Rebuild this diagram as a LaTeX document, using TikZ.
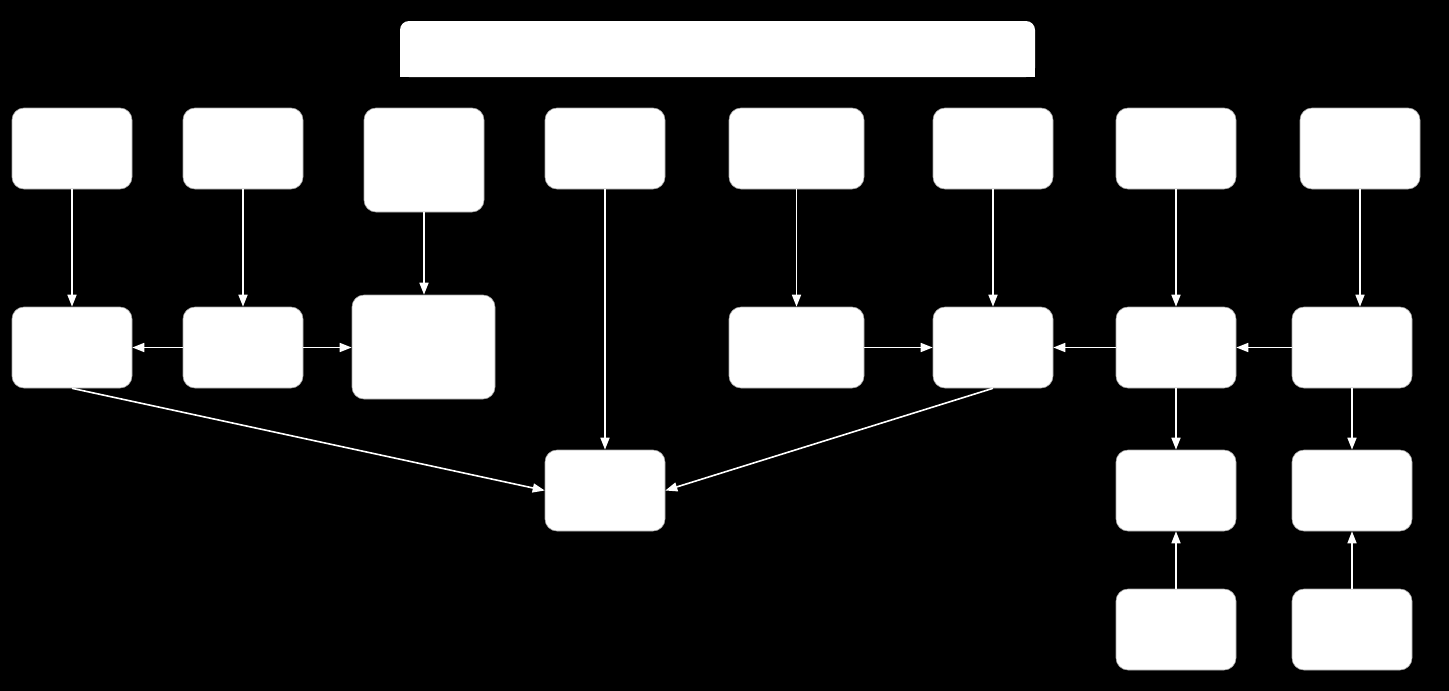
\documentclass[tikz,border=0pt]{standalone}
\usetikzlibrary{arrows.meta}
\begin{document}
\begin{tikzpicture}[x=1pt,y=-1pt,
  box/.style={rectangle, rounded corners=12pt, fill=white, draw=gray!70, line width=0.6pt, minimum width=120pt, minimum height=81pt, inner sep=0pt},
  wide/.style={box, minimum width=135pt},
  tall/.style={box, minimum height=104pt},
  conn/.style={draw=white, line width=1.6pt, -{Triangle[length=12pt,width=9pt]}}]
\fill[black] (0,0) rectangle (1449,691);
\useasboundingbox (0,0) rectangle (1449,691);
% title bar
\node[rectangle, rounded corners=9pt, fill=white, minimum width=635pt, minimum height=56pt, inner sep=0pt] (title) at (717.5,49) {};
\fill[white] (title.west) rectangle (title.south east);
% row 1
\node[box] (a1) at (72,148.5) {};
\node[box] (a2) at (243,148.5) {};
\node[tall] (a3) at (424,160) {};
\node[box] (a4) at (605,148.5) {};
\node[wide] (a5) at (796.5,148.5) {};
\node[box] (a6) at (993,148.5) {};
\node[box] (a7) at (1176,148.5) {};
\node[box] (a8) at (1360,148.5) {};
% row 2
\node[box] (b1) at (72,347.5) {};
\node[box] (b2) at (243,347.5) {};
\node[box, minimum width=143pt, minimum height=104pt] (b3) at (423.5,347) {};
\node[wide] (b5) at (796.5,347.5) {};
\node[box] (b6) at (993,347.5) {};
\node[box] (b7) at (1176,347.5) {};
\node[box] (b8) at (1352,347.5) {};
% row 3
\node[box] (c4) at (605,490.5) {};
\node[box] (c7) at (1176,490.5) {};
\node[box] (c8) at (1352,490.5) {};
% row 4
\node[box] (d7) at (1176,629.5) {};
\node[box] (d8) at (1352,629.5) {};
% connectors
\draw[conn] (a1) -- (b1);
\draw[conn] (a2) -- (b2);
\draw[conn] (a3) -- (b3.north -| a3);
\draw[conn] (a4) -- (c4);
\draw[conn] (a5) -- (b5);
\draw[conn] (a6) -- (b6);
\draw[conn] (a7) -- (b7);
\draw[conn] (a8.south) -- (b8.north -| a8.south);
\draw[conn] (b2) -- (b1);
\draw[conn] (b2) -- (b3.west |- b2);
\draw[conn] (b5) -- (b6);
\draw[conn] (b7) -- (b6);
\draw[conn] (b8) -- (b7);
\draw[conn] (b1.south) -- (c4.west);
\draw[conn] (b6.south) -- (c4.east);
\draw[conn] (b7) -- (c7);
\draw[conn] (b8) -- (c8);
\draw[conn] (d7) -- (c7);
\draw[conn] (d8) -- (c8);
\end{tikzpicture}
\end{document}
